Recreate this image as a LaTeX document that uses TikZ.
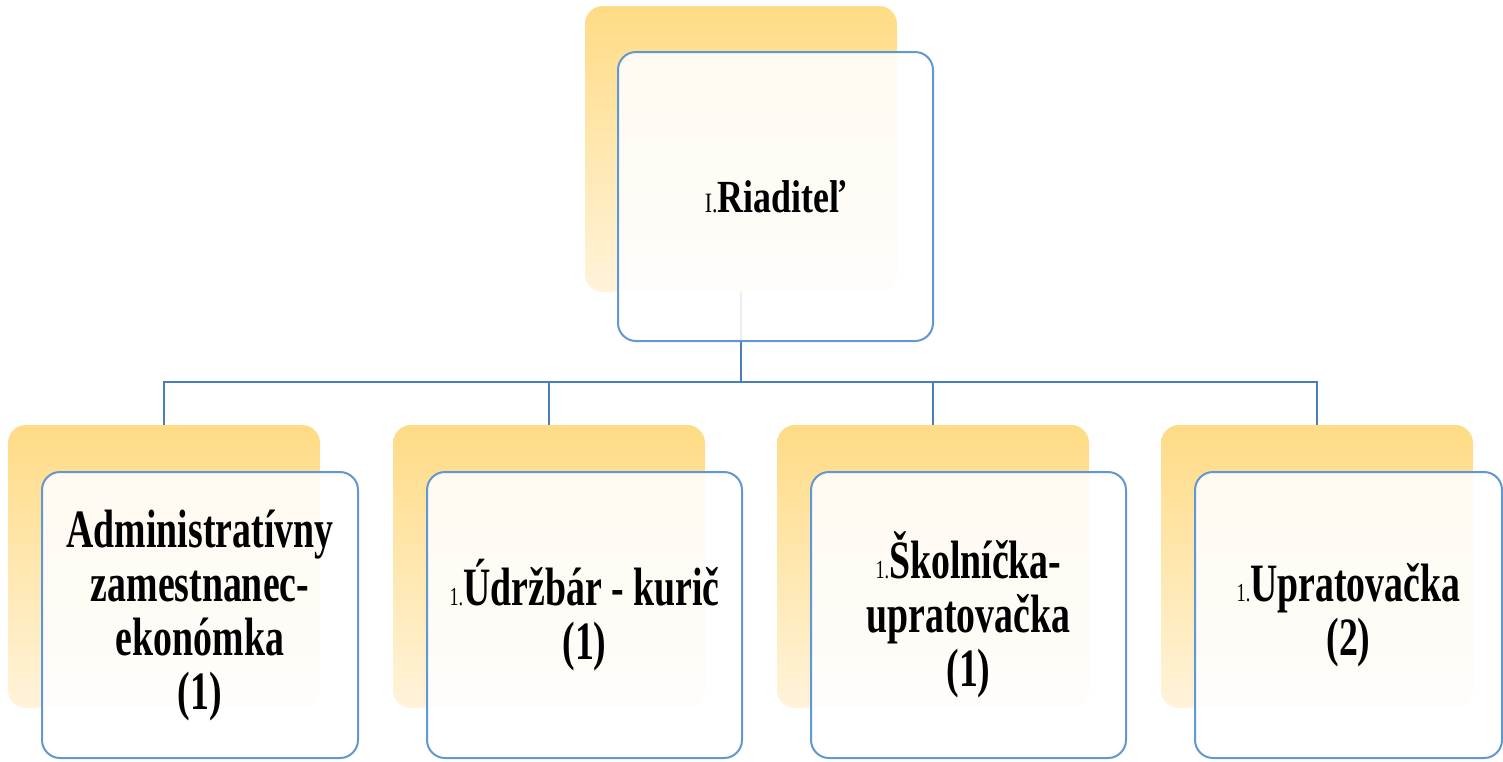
\documentclass[tikz,border=0pt]{standalone}
\usepackage{fontspec}
\setmainfont{Liberation Serif}
\newfontfamily\boxfont[FakeStretch=0.7]{Liberation Serif}
\newfontfamily\topfont[FakeStretch=0.78]{Liberation Serif}
\newcommand\numpre[1]{{\mdseries\fontsize{13}{13}\selectfont #1}}
\definecolor{ylwA}{RGB}{255,219,133}
\definecolor{ylwB}{RGB}{255,243,218}
\definecolor{bordblue}{RGB}{98,152,210}
\definecolor{connblue}{RGB}{74,126,187}
\begin{document}
\begin{tikzpicture}[x=0.5pt,y=-0.5pt,
  ybox/.style={rectangle, rounded corners=9pt, top color=ylwA, bottom color=ylwB, draw=none,
    minimum width=156pt, minimum height=141.5pt, inner sep=0pt},
  wbox/.style={rectangle, rounded corners=9pt, draw=bordblue, line width=1pt, fill=white,
    fill opacity=0.88, text opacity=1, minimum width=158pt, minimum height=143pt, inner sep=0pt,
    align=center, text=black, font=\boxfont\bfseries\fontsize{27}{27}\selectfont},
  conn/.style={draw=connblue, line width=1pt}]
\useasboundingbox (0,0) rectangle (1503,761);
% yellow back boxes
\node[ybox, minimum height=143pt] (ytop) at (741,149) {};
\node[ybox] (y1) at (164,566.5) {};
\node[ybox] (y2) at (549,566.5) {};
\node[ybox] (y3) at (933,566.5) {};
\node[ybox] (y4) at (1317,566.5) {};
% connectors
\coordinate (bus) at (741,382);
\draw[conn] (ytop.south) -- (bus);
\draw[conn] (y1.north) -- (y1.north |- bus) -- (y4.north |- bus) -- (y4.north);
\draw[conn] (y2.north) -- (y2.north |- bus);
\draw[conn] (y3.north) -- (y3.north |- bus);
% white front boxes
\node[wbox, minimum width=157.5pt, minimum height=144.5pt,
  font=\topfont\bfseries\fontsize{23}{23}\selectfont] (wtop) at (775.5,196.5)
  {{\topfont\mdseries\fontsize{14}{14}\selectfont I.}Riaditeľ};
\node[wbox] (w1) at (200,615) {Administratívny\\zamestnanec-\\ekonómka\\(1)};
\node[wbox, minimum width=157.5pt] (w2) at (584.5,615) {\numpre{1.}Údržbár - kurič\\(1)};
\node[wbox, minimum width=157.5pt] (w3) at (968.5,615) {\numpre{1.}Školníčka-\\upratovačka\\(1)};
\node[wbox, minimum width=153.5pt] (w4) at (1348.5,615) {\numpre{1.}Upratovačka\\(2)};
\end{tikzpicture}
\end{document}
